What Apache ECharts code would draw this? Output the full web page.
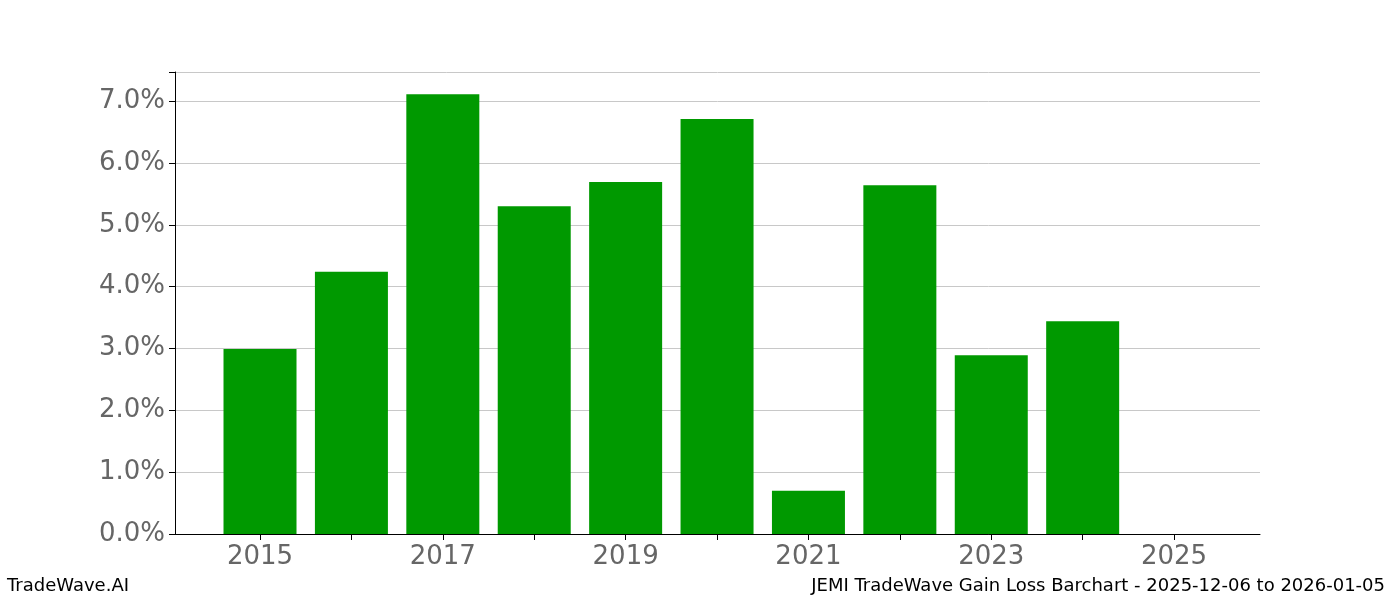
<!DOCTYPE html>
<html>
<head>
<meta charset="utf-8">
<script src="https://cdn.jsdelivr.net/npm/echarts@6/dist/echarts.min.js"></script>
<style>
  html, body { margin: 0; padding: 0; background: #fff; }
  #chart { width: 1400px; height: 600px; }
</style>
</head>
<body>
<div id="chart"></div>
<script>
// Chart data
const years = [2015, 2016, 2017, 2018, 2019, 2020, 2021, 2022, 2023, 2024, 2025];
const gains = [2.99, 4.24, 7.11, 5.30, 5.69, 6.71, 0.70, 5.64, 2.89, 3.44, 0];
const tickYears = [2015, 2016, 2017, 2018, 2019, 2020, 2021, 2022, 2023, 2024, 2025];
const labelYears = [2015, 2017, 2019, 2021, 2023, 2025];

let myChart = echarts.init(document.getElementById('chart'));

let option = {
    animation: false,
    grid: {left: 175, right: 140, top: 72, bottom: 66},
    xAxis: {
        type: 'value',
        min: 2014.07,
        max: 2025.94,
        splitLine: {show: false},
        axisLine: {show: true, lineStyle: {color: '#000'}},
        axisTick: {show: true, length: 6, lineStyle: {color: '#000'}, customValues: tickYears},
        axisLabel: {
            customValues: labelYears,
            color: '#666', fontSize: 26, margin: 10,
            fontFamily: 'DejaVu Sans',
            formatter: v => String(v)
        }
    },
    yAxis: {
        type: 'value',
        min: 0,
        max: 7.47,
        interval: 1,
        axisLine: {show: true, lineStyle: {color: '#000'}},
        axisTick: {show: true, length: 6, lineStyle: {color: '#000'}},
        splitLine: {lineStyle: {color: '#c8c8c8'}},
        axisLabel: {
            color: '#666', fontSize: 26, margin: 10,
            fontFamily: 'DejaVu Sans',
            formatter: v => (v > 7.2 ? '' : v.toFixed(1) + '%')
        }
    },
    series: [{
        type: 'bar',
        barWidth: 73,
        itemStyle: {color: '#009900'},
        data: years.map((y, i) => [y, gains[i]])
    }],
    graphic: [
        {type: 'text', left: 7, top: 577, style: {text: 'TradeWave.AI', fontSize: 18, fill: '#000', fontFamily: 'DejaVu Sans'}},
        {type: 'text', right: 15, top: 577, style: {text: 'JEMI TradeWave Gain Loss Barchart - 2025-12-06 to 2026-01-05', fontSize: 18, fill: '#000', fontFamily: 'DejaVu Sans'}}
    ]
};

myChart.setOption(option);
</script>
</body>
</html>
